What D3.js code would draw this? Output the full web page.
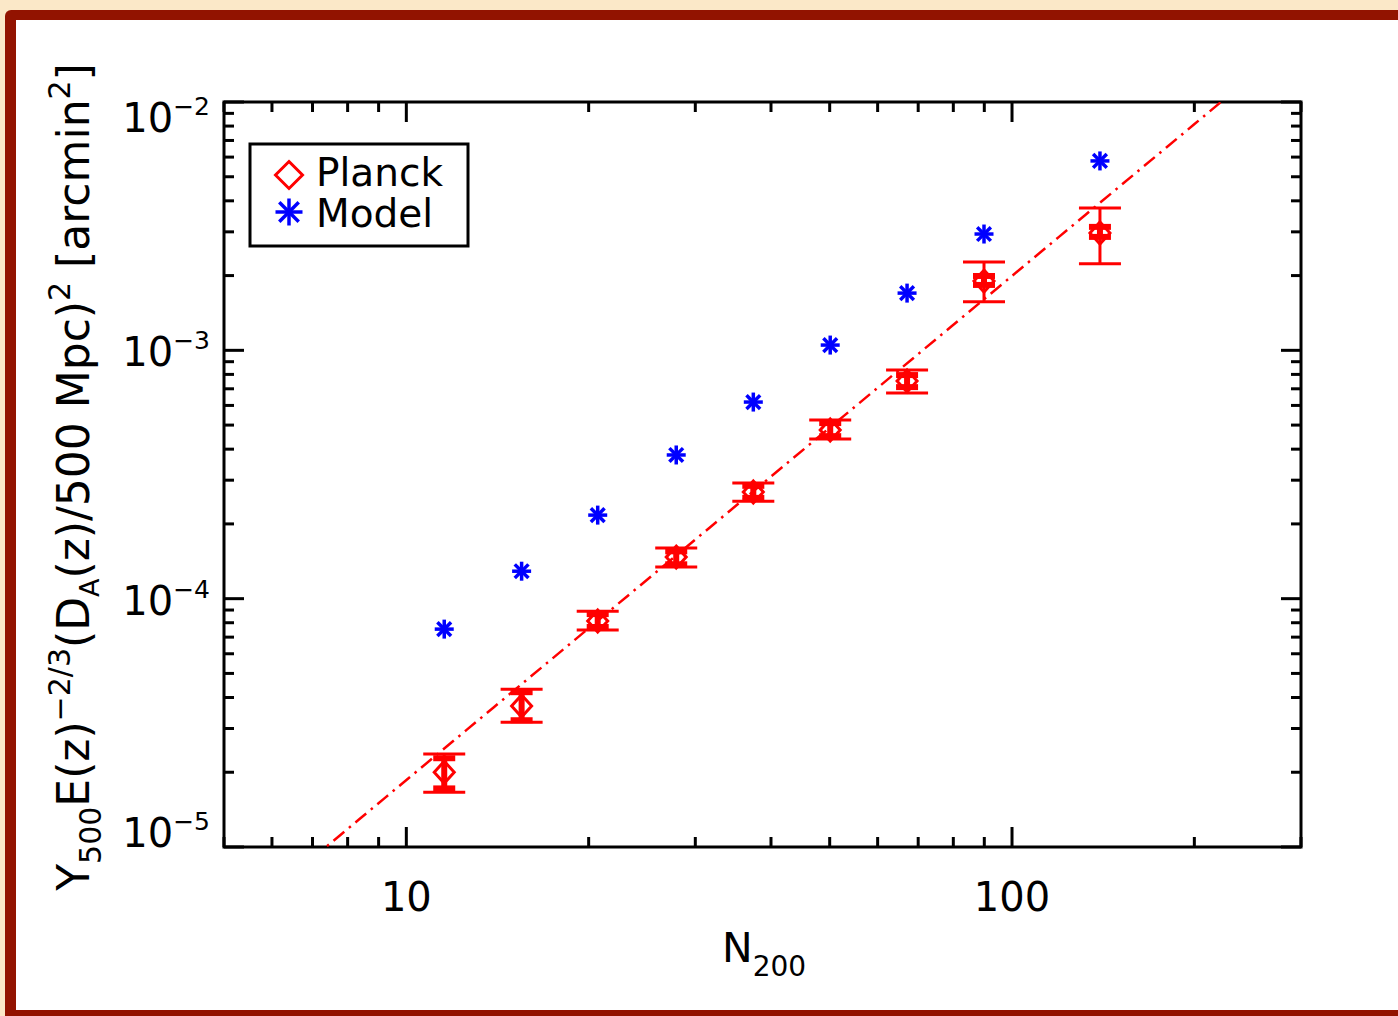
<!DOCTYPE html>
<html>
<head>
<meta charset="utf-8">
<script src="https://cdn.jsdelivr.net/npm/d3@7"></script>
<style>
  html, body { margin: 0; padding: 0; }
  body { width: 1398px; height: 1016px; overflow: hidden; background: #fbe8c8; }
  text { font-family: "DejaVu Sans", sans-serif; fill: black; }
</style>
</head>
<body>
<script>

// N200 bins and measured / model Y500
var nBins = [11.55, 15.5, 20.7, 27.9, 37.4, 50.1, 67.1, 89.9, 139.7]
var planckY = [2.0e-5, 3.7e-5, 8.13e-5, 1.47e-4, 2.69e-4, 4.78e-4, 7.52e-4, 1.90e-3, 2.97e-3]
// total errors
var planckHi = [2.37e-5, 4.32e-5, 8.9e-5, 1.6e-4, 2.92e-4, 5.24e-4, 8.33e-4, 2.27e-3, 3.74e-3]
var planckLo = [1.66e-5, 3.18e-5, 7.48e-5, 1.34e-4, 2.47e-4, 4.39e-4, 6.73e-4, 1.57e-3, 2.23e-3]
// statistical errors
var statHi = [2.32e-5, 4.28e-5, 8.83e-5, 1.58e-4, 2.9e-4, 5.19e-4, 8.1e-4, 2.03e-3, 3.20e-3]
var statLo = [1.69e-5, 3.18e-5, 7.55e-5, 1.35e-4, 2.5e-4, 4.43e-4, 6.98e-4, 1.80e-3, 2.81e-3]
var modelY = [7.54e-5, 1.29e-4, 2.17e-4, 3.79e-4, 6.19e-4, 1.05e-3, 1.70e-3, 2.94e-3, 5.79e-3]

// power law fit: Y = fitNorm * (N/10)^fitSlope
var fitNorm = 1.86e-5
var fitSlope = 2.03

var xMajor = [10, 100]
var xMajorLabels = ["10", "100"]
var xMinor = [5, 6, 7, 8, 9, 20, 30, 40, 50, 60, 70, 80, 90, 200, 300]
var yMajor = [1e-5, 1e-4, 1e-3, 1e-2]
var yMajorExp = ["\u22125", "\u22124", "\u22123", "\u22122"]
var yMinorMult = [2, 3, 4, 5, 6, 7, 8, 9]

var RED = "#ff0000"
var BLUE = "#0000ff"

function main() {
  var svg = d3.select("body").append("svg").attr("width", 1398).attr("height", 1016)

  // frame
  svg.append("rect").attr("x", 5).attr("y", 10).attr("width", 1420).attr("height", 1020)
    .attr("rx", 6).attr("fill", "#921300")
  svg.append("rect").attr("x", 16).attr("y", 20).attr("width", 1400).attr("height", 990)
    .attr("fill", "white")

  var left = 224, right = 1301, top = 102, bottom = 847
  var x = d3.scaleLog().domain([5, 300]).range([left, right])
  var y = d3.scaleLog().domain([1e-5, 1e-2]).range([bottom, top])

  svg.append("defs").append("clipPath").attr("id", "plotclip")
    .append("rect").attr("x", left).attr("y", top).attr("width", right - left).attr("height", bottom - top)

  // ticks, inward on all four sides
  var ticks = svg.append("g").attr("stroke", "black").attr("stroke-width", 3)
  xMajor.forEach(function(v) { xTick(ticks, x(v), top, bottom, 20) })
  xMinor.forEach(function(v) { xTick(ticks, x(v), top, bottom, 10) })
  yMajor.forEach(function(v) { yTick(ticks, y(v), left, right, 20) })
  yMajor.slice(0, 3).forEach(function(v) {
    yMinorMult.forEach(function(m) { yTick(ticks, y(v * m), left, right, 10) })
  })

  svg.append("rect").attr("x", left).attr("y", top).attr("width", right - left).attr("height", bottom - top)
    .attr("fill", "none").attr("stroke", "black").attr("stroke-width", 3)

  // x tick labels
  xMajor.forEach(function(v, i) {
    svg.append("text").attr("x", x(v)).attr("y", 911).attr("text-anchor", "middle")
      .attr("font-size", 40).text(xMajorLabels[i])
  })

  // y tick labels, clamped inside the axis range
  yMajor.forEach(function(v, i) {
    var base = Math.min(Math.max(y(v) + 16, top + 30), bottom)
    var t = svg.append("text").attr("x", 210).attr("y", base).attr("text-anchor", "end").attr("font-size", 40)
    t.append("tspan").text("10")
    t.append("tspan").attr("dy", -17).attr("font-size", 25).text(yMajorExp[i])
  })

  // axis titles
  var xt = svg.append("text").attr("x", 722).attr("y", 962).attr("font-size", 41)
  xt.append("tspan").text("N")
  xt.append("tspan").attr("dy", 14).attr("font-size", 28).text("200")

  var yt = svg.append("text").attr("transform", "translate(89,477) rotate(-90)")
    .attr("text-anchor", "middle").attr("font-size", 44)
  yt.append("tspan").text("Y")
  yt.append("tspan").attr("dy", 12).attr("font-size", 30).text("500")
  yt.append("tspan").attr("dy", -12).text("E(z)")
  yt.append("tspan").attr("dy", -19).attr("font-size", 30).text("\u22122/3")
  yt.append("tspan").attr("dy", 19).text("(D")
  yt.append("tspan").attr("dy", 10).attr("font-size", 27).text("A")
  yt.append("tspan").attr("dy", -10).text("(z)/500 Mpc)")
  yt.append("tspan").attr("dy", -19).attr("font-size", 30).text("2")
  yt.append("tspan").attr("dy", 19).text(" [arcmin")
  yt.append("tspan").attr("dy", -19).attr("font-size", 30).text("2")
  yt.append("tspan").attr("dy", 19).text("]")

  // fit line
  var fitN = d3.range(0, 41).map(function(i) { return 5 * Math.pow(60, i / 40) })
  var line = d3.line()
    .x(function(n) { return x(n) })
    .y(function(n) { return y(fitNorm * Math.pow(n / 10, fitSlope)) })
  svg.append("path").datum(fitN).attr("d", line).attr("clip-path", "url(#plotclip)")
    .attr("fill", "none").attr("stroke", RED).attr("stroke-width", 2.5)
    .attr("stroke-dasharray", "14,6,2.5,6")

  // error bars
  var eb = svg.append("g").attr("stroke", RED).attr("fill", "none")
  nBins.forEach(function(n, i) {
    var cx = x(n)
    eb.append("line").attr("x1", cx).attr("x2", cx).attr("y1", y(planckHi[i])).attr("y2", y(planckLo[i]))
      .attr("stroke-width", 3)
    eb.append("line").attr("x1", cx - 21).attr("x2", cx + 21).attr("y1", y(planckHi[i])).attr("y2", y(planckHi[i]))
      .attr("stroke-width", 3)
    eb.append("line").attr("x1", cx - 21).attr("x2", cx + 21).attr("y1", y(planckLo[i])).attr("y2", y(planckLo[i]))
      .attr("stroke-width", 3)
    eb.append("line").attr("x1", cx).attr("x2", cx).attr("y1", y(statHi[i])).attr("y2", y(statLo[i]))
      .attr("stroke-width", 6)
    eb.append("line").attr("x1", cx - 11).attr("x2", cx + 11).attr("y1", y(statHi[i]) + 2).attr("y2", y(statHi[i]) + 2)
      .attr("stroke-width", 6)
    eb.append("line").attr("x1", cx - 11).attr("x2", cx + 11).attr("y1", y(statLo[i]) - 2).attr("y2", y(statLo[i]) - 2)
      .attr("stroke-width", 6)
    diamond(eb, cx, y(planckY[i]), 10, 11)
  })

  var ast = svg.append("g").attr("stroke", BLUE).attr("stroke-width", 3.5)
  nBins.forEach(function(n, i) { asterisk(ast, x(n), y(modelY[i]), 9.5) })

  // legend
  svg.append("rect").attr("x", 250).attr("y", 144).attr("width", 218).attr("height", 102)
    .attr("fill", "white").attr("stroke", "black").attr("stroke-width", 3)
  diamond(svg.append("g").attr("stroke", RED).attr("fill", "none"), 289, 175, 13.5, 13.5)
  asterisk(svg.append("g").attr("stroke", BLUE).attr("stroke-width", 3.5), 289, 212, 13.5)
  svg.append("text").attr("x", 316).attr("y", 186).attr("font-size", 39).text("Planck")
  svg.append("text").attr("x", 316).attr("y", 227).attr("font-size", 39).text("Model")
}

function xTick(g, px, top, bottom, len) {
  g.append("line").attr("x1", px).attr("x2", px).attr("y1", bottom).attr("y2", bottom - len)
  g.append("line").attr("x1", px).attr("x2", px).attr("y1", top).attr("y2", top + len)
}

function yTick(g, py, left, right, len) {
  g.append("line").attr("x1", left).attr("x2", left + len).attr("y1", py).attr("y2", py)
  g.append("line").attr("x1", right).attr("x2", right - len).attr("y1", py).attr("y2", py)
}

function diamond(g, cx, cy, w, h) {
  g.append("path")
    .attr("d", "M" + cx + "," + (cy - h) + "L" + (cx + w) + "," + cy + "L" + cx + "," + (cy + h) + "L" + (cx - w) + "," + cy + "Z")
    .attr("fill", "none").attr("stroke-width", 3)
}

function asterisk(g, cx, cy, r) {
  var d = r * 0.72
  g.append("line").attr("x1", cx).attr("x2", cx).attr("y1", cy - r).attr("y2", cy + r)
  g.append("line").attr("x1", cx - r).attr("x2", cx + r).attr("y1", cy).attr("y2", cy)
  g.append("line").attr("x1", cx - d).attr("x2", cx + d).attr("y1", cy - d).attr("y2", cy + d)
  g.append("line").attr("x1", cx - d).attr("x2", cx + d).attr("y1", cy + d).attr("y2", cy - d)
}

main()
</script>
</body>
</html>
